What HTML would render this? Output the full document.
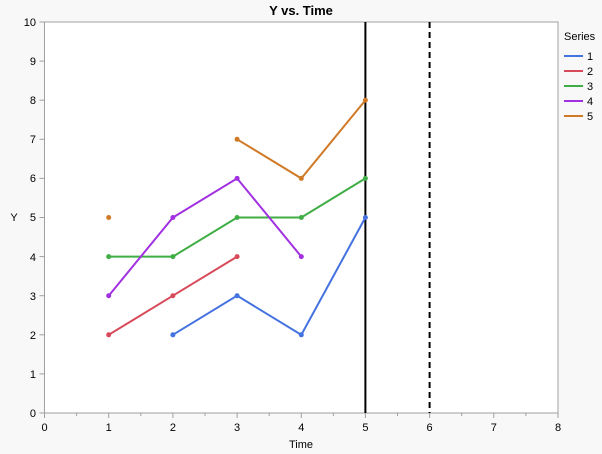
<!DOCTYPE html>
<html><head><style>body{margin:0;background:#f8f8f8}svg{display:block}text{font-family:"Liberation Sans",sans-serif}</style></head><body>
<svg width="602" height="454" xmlns="http://www.w3.org/2000/svg">
<rect width="602" height="454" fill="#f8f8f8"/>
<rect x="44.5" y="22" width="513.5" height="391" fill="#fff" stroke="#a0a0a0" stroke-width="1"/>
<text x="301" y="15" font-size="13" font-weight="bold" text-anchor="middle">Y vs. Time</text>
<g stroke="#a0a0a0" stroke-width="1">
<line x1="44.5" y1="413" x2="44.5" y2="418"/><line x1="108.7" y1="413" x2="108.7" y2="418"/><line x1="172.9" y1="413" x2="172.9" y2="418"/><line x1="237.1" y1="413" x2="237.1" y2="418"/><line x1="301.3" y1="413" x2="301.3" y2="418"/><line x1="365.4" y1="413" x2="365.4" y2="418"/><line x1="429.6" y1="413" x2="429.6" y2="418"/><line x1="493.8" y1="413" x2="493.8" y2="418"/><line x1="558" y1="413" x2="558" y2="418"/>
<line x1="76.6" y1="413" x2="76.6" y2="416"/><line x1="140.8" y1="413" x2="140.8" y2="416"/><line x1="205" y1="413" x2="205" y2="416"/><line x1="269.2" y1="413" x2="269.2" y2="416"/><line x1="333.4" y1="413" x2="333.4" y2="416"/><line x1="397.5" y1="413" x2="397.5" y2="416"/><line x1="461.7" y1="413" x2="461.7" y2="416"/><line x1="525.9" y1="413" x2="525.9" y2="416"/>
<line x1="39.5" y1="413" x2="44.5" y2="413"/><line x1="39.5" y1="373.9" x2="44.5" y2="373.9"/><line x1="39.5" y1="334.8" x2="44.5" y2="334.8"/><line x1="39.5" y1="295.7" x2="44.5" y2="295.7"/><line x1="39.5" y1="256.6" x2="44.5" y2="256.6"/><line x1="39.5" y1="217.5" x2="44.5" y2="217.5"/><line x1="39.5" y1="178.4" x2="44.5" y2="178.4"/><line x1="39.5" y1="139.3" x2="44.5" y2="139.3"/><line x1="39.5" y1="100.2" x2="44.5" y2="100.2"/><line x1="39.5" y1="61.1" x2="44.5" y2="61.1"/><line x1="39.5" y1="22" x2="44.5" y2="22"/>
</g>
<g font-size="11" text-anchor="middle">
<text x="44.5" y="431">0</text><text x="108.7" y="431">1</text><text x="172.9" y="431">2</text><text x="237.1" y="431">3</text><text x="301.3" y="431">4</text><text x="365.4" y="431">5</text><text x="429.6" y="431">6</text><text x="493.8" y="431">7</text><text x="558" y="431">8</text>
<text x="301" y="448">Time</text>
</g>
<g font-size="11" text-anchor="end">
<text x="36" y="417">0</text><text x="36" y="378">1</text><text x="36" y="339">2</text><text x="36" y="300">3</text><text x="36" y="261">4</text><text x="36" y="221">5</text><text x="36" y="182">6</text><text x="36" y="143">7</text><text x="36" y="104">8</text><text x="36" y="65">9</text><text x="36" y="26">10</text>
</g>
<text x="14" y="221" font-size="11" text-anchor="middle">Y</text>
<line x1="365.4" y1="22" x2="365.4" y2="413" stroke="#000" stroke-width="2"/>
<line x1="429.6" y1="22" x2="429.6" y2="413" stroke="#000" stroke-width="2" stroke-dasharray="6,4"/>
<g fill="none" stroke-width="2">
<polyline stroke="#4472e0" points="172.9,334.8 237.1,295.7 301.3,334.8 365.4,217.5"/>
<polyline stroke="#d84a5a" points="108.7,334.8 172.9,295.7 237.1,256.6"/>
<polyline stroke="#3fae45" points="108.7,256.6 172.9,256.6 237.1,217.5 301.3,217.5 365.4,178.4"/>
<polyline stroke="#a030e0" points="108.7,295.7 172.9,217.5 237.1,178.4 301.3,256.6"/>
<polyline stroke="#d07a28" points="237.1,139.3 301.3,178.4 365.4,100.2"/>
</g>
<g fill="#4472e0"><circle cx="172.9" cy="334.8" r="2.5"/><circle cx="237.1" cy="295.7" r="2.5"/><circle cx="301.3" cy="334.8" r="2.5"/><circle cx="365.4" cy="217.5" r="2.5"/></g>
<g fill="#d84a5a"><circle cx="108.7" cy="334.8" r="2.5"/><circle cx="172.9" cy="295.7" r="2.5"/><circle cx="237.1" cy="256.6" r="2.5"/></g>
<g fill="#3fae45"><circle cx="108.7" cy="256.6" r="2.5"/><circle cx="172.9" cy="256.6" r="2.5"/><circle cx="237.1" cy="217.5" r="2.5"/><circle cx="301.3" cy="217.5" r="2.5"/><circle cx="365.4" cy="178.4" r="2.5"/></g>
<g fill="#a030e0"><circle cx="108.7" cy="295.7" r="2.5"/><circle cx="172.9" cy="217.5" r="2.5"/><circle cx="237.1" cy="178.4" r="2.5"/><circle cx="301.3" cy="256.6" r="2.5"/></g>
<g fill="#d07a28"><circle cx="108.7" cy="217.5" r="2.5"/><circle cx="237.1" cy="139.3" r="2.5"/><circle cx="301.3" cy="178.4" r="2.5"/><circle cx="365.4" cy="100.2" r="2.5"/></g>
<text x="564" y="40" font-size="11">Series</text>
<g stroke-width="2">
<line x1="564" y1="56" x2="583" y2="56" stroke="#4472e0"/>
<line x1="564" y1="71" x2="583" y2="71" stroke="#d84a5a"/>
<line x1="564" y1="86" x2="583" y2="86" stroke="#3fae45"/>
<line x1="564" y1="101" x2="583" y2="101" stroke="#a030e0"/>
<line x1="564" y1="116" x2="583" y2="116" stroke="#d07a28"/>
</g>
<g font-size="11"><text x="587" y="60">1</text><text x="587" y="75">2</text><text x="587" y="90">3</text><text x="587" y="105">4</text><text x="587" y="120">5</text></g>
</svg>
</body></html>
